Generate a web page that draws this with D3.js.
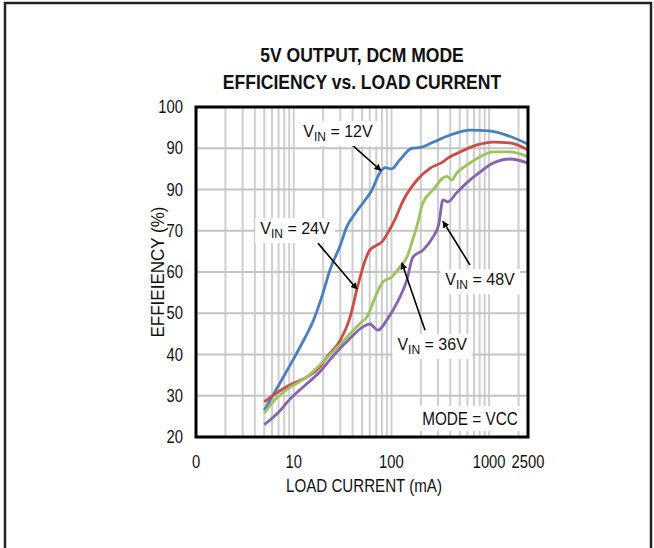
<html>
<head>
<style>
  body { margin: 0; background: #fff; }
  text { font-family: "Liberation Sans", Arial, sans-serif; fill: #111; }
</style>
<script src="https://d3js.org/d3.v7.min.js"></script>
</head>
<body>
<svg width="654" height="548"></svg>
<script>
// load current (mA) and efficiency (%)
let cur12 = [5, 7, 10, 13, 16, 20, 23.5, 30, 35, 42, 51, 62, 76, 86, 100, 122, 162, 200, 270, 400, 640, 1000, 1500, 2500]
let eff12 = [26.5, 32.5, 39, 44, 48.4, 55, 60.5, 66.5, 71, 74, 76.7, 79.5, 84, 85.3, 85, 87.2, 90, 90.2, 91.5, 93.2, 94.4, 94.2, 93.2, 91]
let cur24 = [5, 6.7, 9.1, 13.6, 18.6, 22, 30, 37.7, 45, 54, 60, 71, 80, 92, 110, 130, 183, 250, 337, 378, 506, 752, 1100, 1630, 2500]
let eff24 = [28.5, 30.7, 32.6, 34.5, 37, 39.5, 43.5, 49, 56.4, 62.9, 65.3, 66.5, 67.3, 69.5, 73, 77, 82.3, 85.2, 86.7, 87.6, 89.1, 90.8, 91.5, 91.3, 89.6]
let cur36 = [5, 6.7, 9.1, 13.6, 18.6, 30, 48, 56, 71, 82, 101, 122, 144, 166, 178, 210, 267, 337, 370, 415, 466, 590, 804, 1100, 1630, 2500]
let eff36 = [25.8, 29.5, 32, 34.5, 37.5, 42.5, 47.6, 49.1, 54.9, 57.6, 58.8, 61.2, 63.6, 68, 70.2, 76.7, 79.9, 82.8, 83.2, 82.3, 84, 85.9, 87.9, 89.1, 89.1, 87.9]
let cur48 = [5, 7, 9, 13, 18, 25, 38, 51, 60, 73, 90, 114, 144, 166, 210, 267, 305, 337, 378, 466, 590, 804, 1100, 1630, 2500]
let eff48 = [23, 26, 29, 32.5, 35.5, 39.5, 44, 46.7, 47.4, 45.9, 48.4, 52.5, 58.1, 63.6, 65.3, 68.5, 71.5, 77.5, 77, 79.2, 81.6, 84.2, 86.4, 87.4, 86.4]

let seriesNames = ["12V", "24V", "36V", "48V"]
let seriesColors = ["#4a7ec3", "#cc4b47", "#9cc45a", "#8464b0"]

let yTicks = [20, 30, 40, 50, 60, 70, 80, 90, 100]
let yTickLabels = ["20", "30", "40", "50", "60", "70", "90", "90", "100"]
let xTicks = [1, 10, 100, 1000, 2500]
let xTickLabels = ["0", "10", "100", "1000", "2500"]

// annotation: label anchor and arrow start/end in data units
let notes = [
  {name: "12V", lx: 28.4, ly: 92.7, from: [39.5, 90.8], to: [78, 84.6]},
  {name: "24V", lx: 10.3, ly: 69.2, from: [17.7, 67], to: [44.5, 55.8]},
  {name: "36V", lx: 261, ly: 41.1, from: [221, 45.9], to: [128, 62.2]},
  {name: "48V", lx: 807, ly: 56.8, from: [637, 61.7], to: [337, 72.3]}
]

let svg = d3.select("svg")
let pLeft = 196, pRight = 528, pTop = 107, pBottom = 437

let x = d3.scaleLog().domain([1, 2500]).range([pLeft, pRight])
let y = d3.scaleLinear().domain([20, 100]).range([pBottom, pTop])

// no narrow font installed, so squeeze the glyphs instead
function squeeze(sel, k) {
  sel.each(function() {
    let w = this.getComputedTextLength()
    d3.select(this).attr("textLength", w * k).attr("lengthAdjust", "spacingAndGlyphs")
  })
  return sel
}

// outer frame
svg.append("path")
   .attr("d", "M5,548V3H651V548")
   .attr("fill", "none")
   .attr("stroke", "#222")
   .attr("stroke-width", 2.5)

squeeze(svg.append("text").attr("x", 362).attr("y", 62).attr("text-anchor", "middle")
   .attr("font-size", 21).attr("font-weight", "bold").text("5V OUTPUT, DCM MODE"), 0.835)
squeeze(svg.append("text").attr("x", 362).attr("y", 89).attr("text-anchor", "middle")
   .attr("font-size", 21).attr("font-weight", "bold").text("EFFICIENCY vs. LOAD CURRENT"), 0.835)

// grid
let grid = svg.append("g").attr("stroke", "#cfcfcf").attr("stroke-width", 2)
grid.selectAll(".vg").data(x.ticks().filter(d => d > 1 && d < 2500))
   .enter().append("line")
   .attr("x1", d => x(d)).attr("x2", d => x(d))
   .attr("y1", pTop).attr("y2", pBottom)
grid.selectAll(".hg").data(yTicks.slice(1, -1))
   .enter().append("line")
   .attr("y1", d => y(d)).attr("y2", d => y(d))
   .attr("x1", pLeft).attr("x2", pRight)
   .attr("stroke", "#c4c4c4")

// curves
let line = d3.line()
   .x(d => x(d[0])).y(d => y(d[1]))
   .curve(d3.curveMonotoneX)
let curs = [cur12, cur24, cur36, cur48], effs = [eff12, eff24, eff36, eff48]
curs.forEach(function(c, i) {
  svg.append("path")
     .datum(d3.zip(c, effs[i]))
     .attr("fill", "none")
     .attr("stroke", seriesColors[i])
     .attr("stroke-width", 2.8)
     .attr("stroke-linejoin", "round")
     .attr("d", line)
})

// axes box
svg.append("rect").attr("x", pLeft).attr("y", pTop)
   .attr("width", pRight - pLeft).attr("height", pBottom - pTop)
   .attr("fill", "none").attr("stroke", "#000").attr("stroke-width", 3)

// tick labels
squeeze(svg.selectAll(".yl").data(yTicks).enter().append("text")
   .attr("x", 183).attr("y", d => y(d) + 6)
   .attr("text-anchor", "end").attr("font-size", 18)
   .text((d, i) => yTickLabels[i]), 0.82)
squeeze(svg.selectAll(".xl").data(xTicks).enter().append("text")
   .attr("x", d => x(d)).attr("y", 468)
   .attr("text-anchor", "middle").attr("font-size", 18)
   .text((d, i) => xTickLabels[i]), 0.82)

squeeze(svg.append("text").attr("x", 364).attr("y", 492).attr("text-anchor", "middle")
   .attr("font-size", 18).text("LOAD CURRENT (mA)"), 0.84)
svg.append("text").attr("transform", "translate(164,272) rotate(-90)")
   .attr("text-anchor", "middle").attr("font-size", 18)
   .attr("textLength", 131).attr("lengthAdjust", "spacingAndGlyphs")
   .text("EFFIEIENCY (%)")

// arrows
svg.append("defs").append("marker")
   .attr("id", "ah").attr("viewBox", "0 0 10 10")
   .attr("refX", 9).attr("refY", 5)
   .attr("markerWidth", 7).attr("markerHeight", 7)
   .attr("markerUnits", "userSpaceOnUse")
   .attr("orient", "auto")
   .append("path").attr("d", "M0,0L10,5L0,10Z").attr("fill", "#000")
svg.selectAll(".ar").data(notes).enter().append("line")
   .attr("x1", d => x(d.from[0])).attr("y1", d => y(d.from[1]))
   .attr("x2", d => x(d.to[0])).attr("y2", d => y(d.to[1]))
   .attr("stroke", "#000").attr("stroke-width", 1.6)
   .attr("marker-end", "url(#ah)")

// labels with white backing
notes.forEach(function(n) {
  let g = svg.append("g")
  let t = g.append("text")
     .attr("x", x(n.lx)).attr("y", y(n.ly))
     .attr("text-anchor", "middle").attr("font-size", 16)
  t.append("tspan").text("V")
  t.append("tspan").attr("font-size", 12).attr("dy", 4).text("IN")
  t.append("tspan").attr("dy", -4).text(" = " + n.name)
  let b = t.node().getBBox()
  g.insert("rect", "text")
   .attr("x", b.x - 5).attr("y", b.y - 2)
   .attr("width", b.width + 10).attr("height", b.height + 4)
   .attr("fill", "#fff")
})

let mg = svg.append("g")
let mt = squeeze(mg.append("text").attr("x", x(637)).attr("y", y(22.9))
   .attr("text-anchor", "middle").attr("font-size", 18).text("MODE = VCC"), 0.85)
let mb = mt.node().getBBox()
mg.insert("rect", "text")
  .attr("x", mb.x - 5).attr("y", mb.y - 3)
  .attr("width", mb.width + 10).attr("height", mb.height + 5)
  .attr("fill", "#fff")
</script>
</body>
</html>
